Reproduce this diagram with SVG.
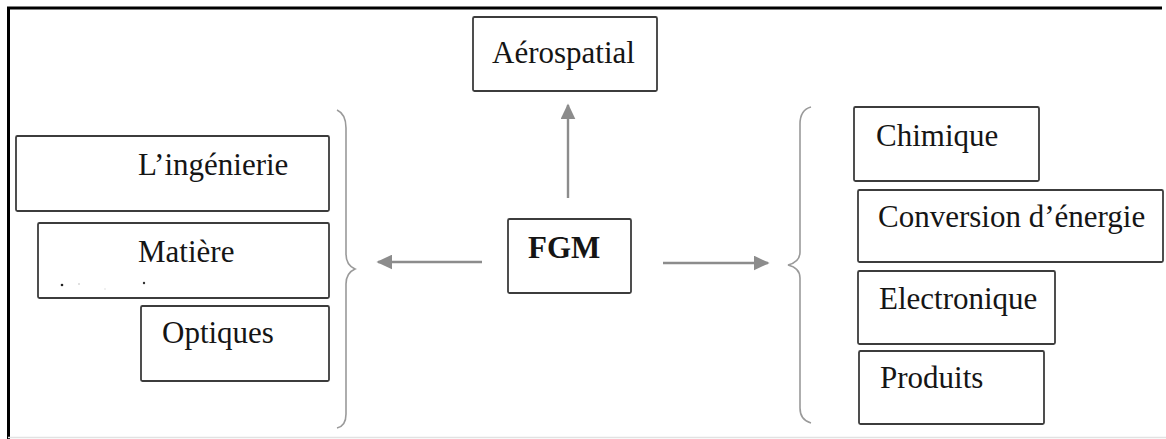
<svg xmlns="http://www.w3.org/2000/svg" width="1166" height="439" viewBox="0 0 1166 439">
<defs>
<style>
.box{fill:#fff;stroke:#3c3c3c;stroke-width:1.8}
.t{font-family:"Liberation Serif","Times New Roman",serif;font-size:31px;fill:#151515}
.b{font-weight:bold}
.conn{stroke:#8c8c8c;stroke-width:2.4;fill:none}
.brace{stroke:#9a9a9a;stroke-width:1.6;fill:none}
</style>
<marker id="ah" viewBox="0 0 10 10" refX="9" refY="5" markerWidth="16" markerHeight="15" markerUnits="userSpaceOnUse" orient="auto" preserveAspectRatio="none">
<path d="M0,0 L10,5 L0,10 z" fill="#8c8c8c"/>
</marker>
</defs>
<rect x="0" y="0" width="1166" height="439" fill="#fff"/>
<g id="frame">
<line x1="7" y1="8" x2="1162" y2="8" stroke="#000" stroke-width="3"/>
<line x1="8.5" y1="7" x2="8.5" y2="439" stroke="#000" stroke-width="3"/>
<line x1="8" y1="437.5" x2="1166" y2="437.5" stroke="#e2e2e2" stroke-width="1.5"/>
</g>
<g id="connectors">
<line class="conn" x1="568" y1="198" x2="568" y2="105" marker-end="url(#ah)"/>
<line class="conn" x1="482" y1="262" x2="378" y2="262" marker-end="url(#ah)"/>
<line class="conn" x1="663" y1="263" x2="768" y2="263" marker-end="url(#ah)"/>
<path class="brace" d="M337,110 Q346,114 346,128 L346,254 Q346,265 355,269 Q346,273 346,284 L346,414 Q346,426 337,428"/>
<path class="brace" d="M811,107 Q800,110 800,124 L800,252 Q800,262 788,265 Q800,268 800,278 L800,408 Q800,420 811,423"/>
</g>
<g id="aerospatial">
<rect class="box" x="473" y="17" width="184" height="74" rx="1.5"/>
<text class="t" x="492" y="63">Aérospatial</text>
</g>
<g id="fgm">
<rect class="box" x="508" y="219" width="123" height="74" rx="1.5"/>
<text class="t b" x="528" y="258">FGM</text>
</g>
<g id="ingenierie">
<rect class="box" x="16" y="136" width="313" height="75" rx="1.5"/>
<text class="t" x="138" y="175">L’ingénierie</text>
</g>
<g id="matiere">
<rect class="box" x="38" y="223" width="291" height="75" rx="1.5"/>
<text class="t" x="138" y="262">Matière</text>
<circle cx="62" cy="285" r="1.3" fill="#222"/>
<circle cx="79" cy="284" r="0.8" fill="#bbb"/>
<circle cx="105" cy="289" r="0.8" fill="#ddd"/>
<circle cx="144" cy="283" r="1.2" fill="#333"/>
</g>
<g id="optiques">
<rect class="box" x="141" y="306" width="188" height="75" rx="1.5"/>
<text class="t" x="162" y="343">Optiques</text>
</g>
<g id="chimique">
<rect class="box" x="854" y="107" width="185" height="74" rx="1.5"/>
<text class="t" x="876" y="146">Chimique</text>
</g>
<g id="conversion">
<rect class="box" x="858" y="190" width="305" height="72" rx="1.5"/>
<text class="t" x="878" y="227">Conversion d’énergie</text>
</g>
<g id="electronique">
<rect class="box" x="858" y="271" width="197" height="73" rx="1.5"/>
<text class="t" x="879" y="309">Electronique</text>
</g>
<g id="produits">
<rect class="box" x="859" y="351" width="185" height="73" rx="1.5"/>
<text class="t" x="880" y="388">Produits</text>
</g>
</svg>
